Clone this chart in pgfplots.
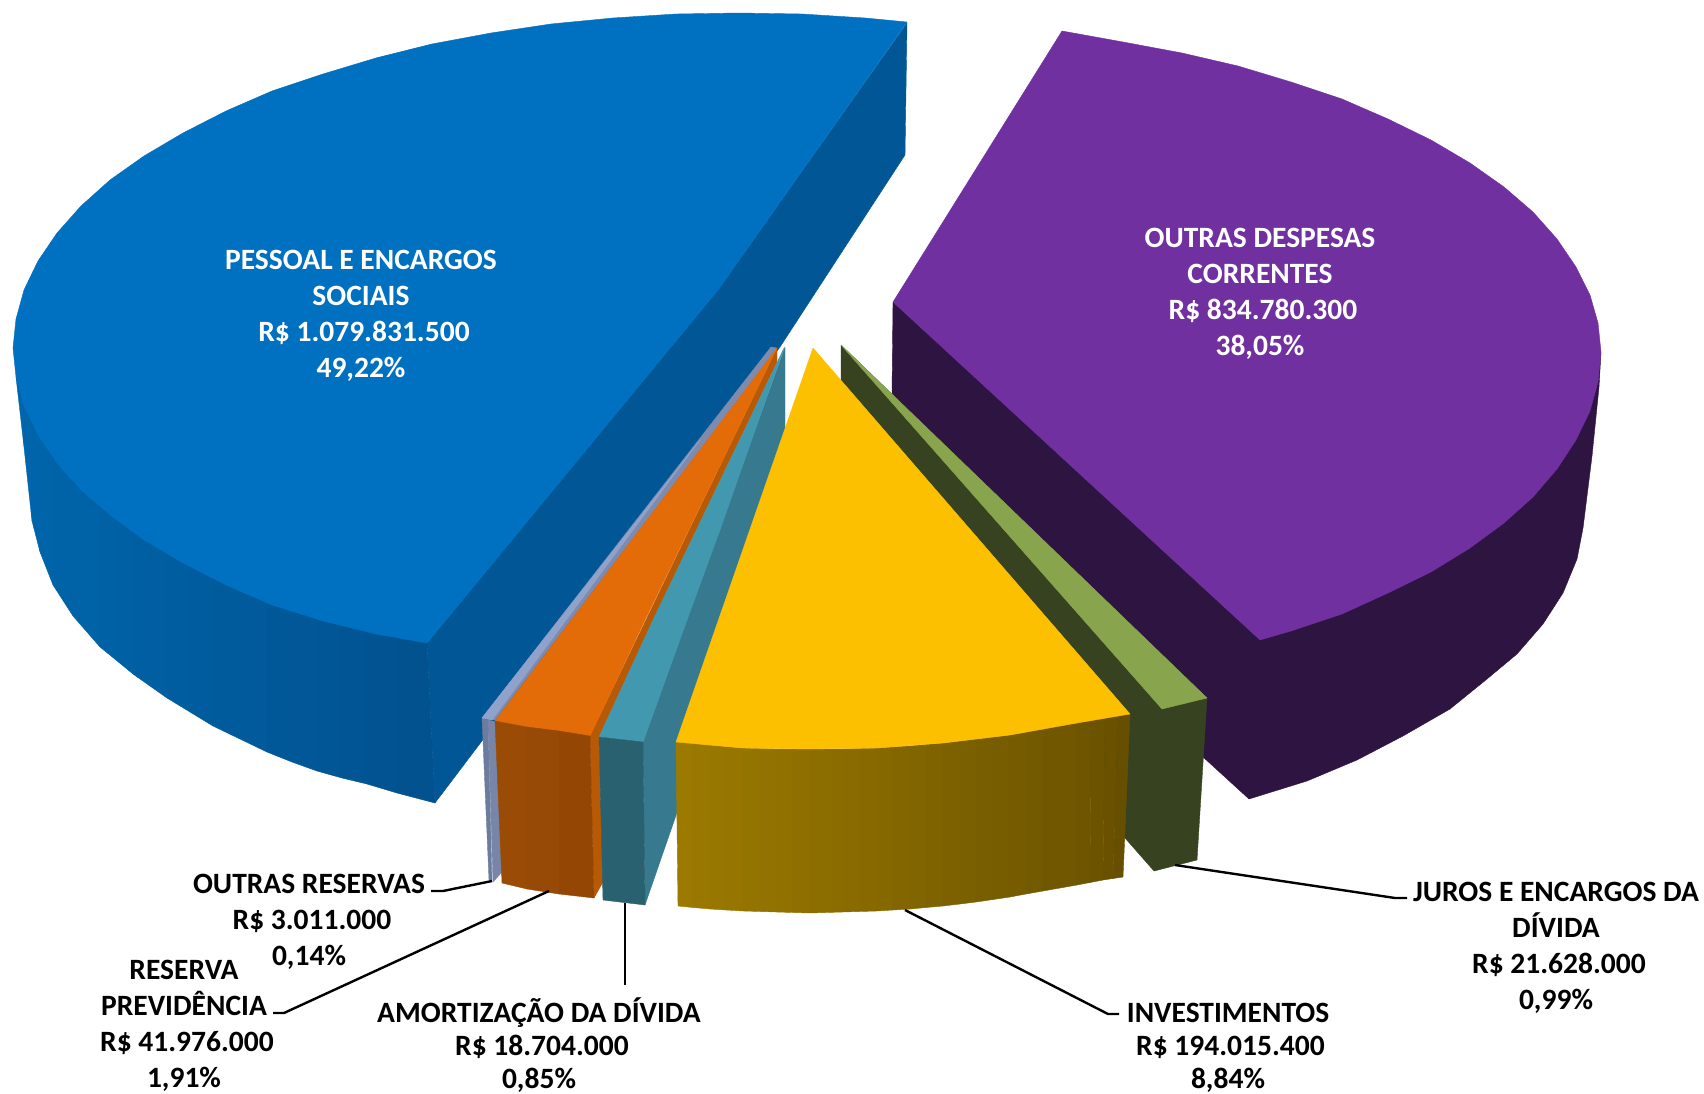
\documentclass[border=0pt]{standalone}
\usepackage{fontspec}
\setmainfont{Carlito}
\usepackage{pgfplots}
\pgfplotsset{compat=1.18}
\definecolor{blueTop}{HTML}{0070C0}
\definecolor{blueCut}{HTML}{015796}
\definecolor{blueA}{HTML}{0065AB}
\definecolor{blueB}{HTML}{01518E}
\definecolor{purTop}{HTML}{7030A0}
\definecolor{purWall}{HTML}{2D1441}
\definecolor{greyLt}{HTML}{8FA2CB}
\definecolor{greyDk}{HTML}{7C8BAE}
\definecolor{greyWa}{HTML}{6C7C9C}
\definecolor{greyWb}{HTML}{7786A8}
\definecolor{oraTop}{HTML}{E36C09}
\definecolor{oraCut}{HTML}{B85A05}
\definecolor{oraA}{HTML}{9A4C06}
\definecolor{oraB}{HTML}{944705}
\definecolor{teaTop}{HTML}{4198AF}
\definecolor{teaCut}{HTML}{377A8F}
\definecolor{teaWall}{HTML}{2A6171}
\definecolor{yelTop}{HTML}{FCC000}
\definecolor{yelA}{HTML}{9C7A00}
\definecolor{yelB}{HTML}{664F00}
\definecolor{greTop}{HTML}{88A44C}
\definecolor{greWall}{HTML}{374320}
\pgfplotsset{pol/.style={fill=#1,draw=#1,line width=0.4pt,line join=round}}
\begin{document}
\begin{tikzpicture}
\useasboundingbox (0,0) rectangle (1704pt,1094pt);
\begin{axis}[at={(0,0)},anchor=south west,scale only axis,width=1704pt,height=1094pt,
  xmin=0,xmax=1704,ymin=0,ymax=1094,y dir=reverse,hide axis,clip=false]
% blue cut wall
\addplot[pol=blueCut] coordinates {(907,23)(905,155)(780,347)(435,803)(427,643)(718,290)} -- cycle;
% blue wall
\addplot[pol=blueA] coordinates {(16,377)(24,403)(24,447)} -- cycle;
\addplot[pol={blueA!98!blueB}] coordinates {(24,403)(32,420)(32,521)(24,447)} -- cycle;
\addplot[pol={blueA!96!blueB}] coordinates {(32,420)(40,435)(40,552)(32,521)} -- cycle;
\addplot[pol={blueA!94!blueB}] coordinates {(40,435)(53,454)(53,585)(40,552)} -- cycle;
\addplot[pol={blueA!91!blueB}] coordinates {(53,454)(73,478)(73,616)(53,585)} -- cycle;
\addplot[pol={blueA!85!blueB}] coordinates {(73,478)(100,503)(100,647)(73,616)} -- cycle;
\addplot[pol={blueA!79!blueB}] coordinates {(100,503)(116,516)(116,660)(100,647)} -- cycle;
\addplot[pol={blueA!75!blueB}] coordinates {(116,516)(133,529)(133,674)(116,660)} -- cycle;
\addplot[pol={blueA!71!blueB}] coordinates {(133,529)(150,540)(150,686)(133,674)} -- cycle;
\addplot[pol={blueA!67!blueB}] coordinates {(150,540)(167,551)(167,698)(150,686)} -- cycle;
\addplot[pol={blueA!62!blueB}] coordinates {(167,551)(190,563)(190,712)(167,698)} -- cycle;
\addplot[pol={blueA!56!blueB}] coordinates {(190,563)(213,575)(213,726)(190,712)} -- cycle;
\addplot[pol={blueA!50!blueB}] coordinates {(213,575)(240,588)(240,739)(213,726)} -- cycle;
\addplot[pol={blueA!44!blueB}] coordinates {(240,588)(267,600)(267,752)(240,739)} -- cycle;
\addplot[pol={blueA!37!blueB}] coordinates {(267,600)(292,608)(292,762)(267,752)} -- cycle;
\addplot[pol={blueA!31!blueB}] coordinates {(292,608)(317,616)(317,771)(292,762)} -- cycle;
\addplot[pol={blueA!25!blueB}] coordinates {(317,616)(342,623)(342,778)(317,771)} -- cycle;
\addplot[pol={blueA!19!blueB}] coordinates {(342,623)(367,629)(367,784)(342,778)} -- cycle;
\addplot[pol={blueA!12!blueB}] coordinates {(367,629)(397,635)(397,793)(367,784)} -- cycle;
\addplot[pol={blueA!5!blueB}] coordinates {(397,635)(427,643)(435,803)(397,793)} -- cycle;
% blue top
\addplot[pol=blueTop] coordinates {(907,22)(865,18)(802,14)(739,13)(676,14)(613,18)(551,24)(491,33)(432,44)(376,58)(323,74)(272,91)(226,111)(183,133)(144,156)(110,180)(81,206)(57,233)(38,261)(24,290)(16,319)(13,348)(16,377)(24,406)(38,435)(57,463)(81,490)(110,515)(144,540)(183,563)(226,585)(272,605)(323,621)(376,634)(427,643)(718,290)} -- cycle;
% purple wall
\addplot[pol=purWall] coordinates {(893,302)(892,393)(1203,757)(1249,799)(1307,781)(1357,760)(1403,736)(1450,709)(1487,679)(1517,654)(1543,624)(1563,593)(1577,559)(1583,528)(1592,456)(1599,387)(1601,352)} -- cycle;
% purple top
\addplot[pol=purTop] coordinates {(1062,31)(1123,42)(1182,53)(1238,66)(1291,82)(1342,99)(1388,119)(1431,140)(1470,163)(1504,187)(1533,212)(1557,239)(1576,267)(1590,295)(1598,323)(1601,352)(1598,382)(1590,411)(1576,440)(1557,469)(1533,497)(1504,523)(1470,548)(1431,572)(1388,593)(1342,614)(1291,631)(1260,640)(893,302)} -- cycle;
% grey slice
\addplot[pol=greyWa] coordinates {(482,718)(488,720)(492,882)(489,880)} -- cycle;
\addplot[pol=greyWb] coordinates {(488,720)(496,722)(502,872)(493,882)} -- cycle;
\addplot[pol=greyDk] coordinates {(771,347)(777,348)(495,720)(482,718)} -- cycle;
\addplot[pol=greyLt] coordinates {(482,718)(492,720)(700,440)} -- cycle;
% orange slice
\addplot[pol=oraCut] coordinates {(777,348)(777,362)(653,620)(599,737)(603,882)(594,898)(590,736)} -- cycle;
\addplot[pol=oraTop] coordinates {(777,348)(645,620)(590,736)(543,730)(495,721)} -- cycle;
\addplot[pol=oraA] coordinates {(495,721)(527,727)(527,889)(502,883)} -- cycle;
\addplot[pol={oraA!50!oraB}] coordinates {(527,727)(559,731)(559,894)(527,889)} -- cycle;
\addplot[pol=oraB] coordinates {(559,731)(590,736)(594,898)(559,894)} -- cycle;
% teal slice
\addplot[pol=teaCut] coordinates {(785,347)(785,500)(645,905)(643,742)} -- cycle;
\addplot[pol=teaTop] coordinates {(784,348)(720,530)(687,620)(643,742)(599,737)(653,620)} -- cycle;
\addplot[pol=teaWall] coordinates {(599,737)(643,742)(645,905)(603,900)} -- cycle;
% green slice
\addplot[pol=greWall] coordinates {(841,345)(1207,698)(1197,860)(1154,871)(1125,838)(841,500)} -- cycle;
\addplot[pol=greTop] coordinates {(841,345)(1207,698)(1162,709)} -- cycle;
% yellow wall
\addplot[pol={yelA!100!yelB}] coordinates {(676,742)(693,743.5)(693,907.5)(678,906)} -- cycle;
\addplot[pol={yelA!96!yelB}] coordinates {(693,743.5)(710,745)(710,909)(693,907.5)} -- cycle;
\addplot[pol={yelA!93!yelB}] coordinates {(710,745)(726,746.5)(726,910)(710,909)} -- cycle;
\addplot[pol={yelA!89!yelB}] coordinates {(726,746.5)(743,748)(743,911)(726,910)} -- cycle;
\addplot[pol={yelA!86!yelB}] coordinates {(743,748)(760,748.5)(760,911.5)(743,911)} -- cycle;
\addplot[pol={yelA!82!yelB}] coordinates {(760,748.5)(776,749)(776,912)(760,911.5)} -- cycle;
\addplot[pol={yelA!79!yelB}] coordinates {(776,749)(793,749)(793,912.5)(776,912)} -- cycle;
\addplot[pol={yelA!75!yelB}] coordinates {(793,749)(810,749)(810,913)(793,912.5)} -- cycle;
\addplot[pol={yelA!71!yelB}] coordinates {(810,749)(826,749)(826,912.5)(810,913)} -- cycle;
\addplot[pol={yelA!68!yelB}] coordinates {(826,749)(843,749)(843,912)(826,912.5)} -- cycle;
\addplot[pol={yelA!64!yelB}] coordinates {(843,749)(860,748.5)(860,911.5)(843,912)} -- cycle;
\addplot[pol={yelA!61!yelB}] coordinates {(860,748.5)(877,748)(877,911)(860,911.5)} -- cycle;
\addplot[pol={yelA!57!yelB}] coordinates {(877,748)(893,747)(893,910)(877,911)} -- cycle;
\addplot[pol={yelA!54!yelB}] coordinates {(893,747)(910,746)(910,909)(893,910)} -- cycle;
\addplot[pol={yelA!50!yelB}] coordinates {(910,746)(926,744.5)(926,907.5)(910,909)} -- cycle;
\addplot[pol={yelA!46!yelB}] coordinates {(926,744.5)(943,743)(943,906)(926,907.5)} -- cycle;
\addplot[pol={yelA!43!yelB}] coordinates {(943,743)(960,741)(960,904)(943,906)} -- cycle;
\addplot[pol={yelA!39!yelB}] coordinates {(960,741)(976,739)(976,902)(960,904)} -- cycle;
\addplot[pol={yelA!36!yelB}] coordinates {(976,739)(993,737)(993,899.5)(976,902)} -- cycle;
\addplot[pol={yelA!32!yelB}] coordinates {(993,737)(1010,735)(1010,897)(993,899.5)} -- cycle;
\addplot[pol={yelA!29!yelB}] coordinates {(1010,735)(1026,732)(1026,894)(1010,897)} -- cycle;
\addplot[pol={yelA!25!yelB}] coordinates {(1026,732)(1043,729)(1043,891)(1026,894)} -- cycle;
\addplot[pol={yelA!21!yelB}] coordinates {(1043,729)(1060,726)(1060,888)(1043,891)} -- cycle;
\addplot[pol={yelA!18!yelB}] coordinates {(1060,726)(1077,723)(1077,885)(1060,888)} -- cycle;
\addplot[pol={yelA!14!yelB}] coordinates {(1077,723)(1091,720)(1090,882.5)(1077,885)} -- cycle;
\addplot[pol={yelA!10!yelB}] coordinates {(1091,720)(1105,717)(1103,880)(1090,882.5)} -- cycle;
\addplot[pol={yelA!5!yelB}] coordinates {(1105,717)(1118,715)(1113,878.5)(1103,880)} -- cycle;
\addplot[pol=yelB] coordinates {(1118,715)(1130,714)(1123,877)(1113,878.5)} -- cycle;
% yellow top
\addplot[pol=yelTop] coordinates {(813,348)(1130,714)(1077,723)(1010,735)(943,743)(877,748)(810,749)(743,748)(676,742)} -- cycle;
% leader lines
\addplot[black,line width=2.4pt] coordinates {(492,881)(443,891)(431,891)};
\addplot[black,line width=2.4pt] coordinates {(549,891)(284,1013)(273,1013)};
\addplot[black,line width=2.4pt] coordinates {(625,903)(625,985)};
\addplot[black,line width=2.4pt] coordinates {(905,910)(1108,1014)(1119,1014)};
\addplot[black,line width=2.4pt] coordinates {(1175,865)(1395,898)(1407,898)};
% labels
\tikzset{lab/.style={align=center,inner sep=0pt,font=\fontsize{29.5}{36}\selectfont\bfseries},
  labb/.style={align=center,inner sep=0pt,font=\fontsize{29.5}{33}\selectfont\bfseries}}
\node[lab,text=white] at (axis cs:361,316) {PESSOAL E ENCARGOS\\SOCIAIS\\\hspace*{6pt}R\$ 1.079.831.500\\49,22\%};
\node[lab,text=white] at (axis cs:1260,294) {OUTRAS DESPESAS\\CORRENTES\\\hspace*{6pt}R\$ 834.780.300\\38,05\%};
\node[lab] at (axis cs:309,922) {OUTRAS RESERVAS\\\hspace*{6pt}R\$ 3.011.000\\0,14\%};
\node[lab] at (axis cs:184,1026) {RESERVA\\PREVIDÊNCIA\\\hspace*{6pt}R\$ 41.976.000\\1,91\%};
\node[labb] at (axis cs:539,1045) {AMORTIZAÇÃO DA DÍVIDA\\\hspace*{6pt}R\$ 18.704.000\\0,85\%};
\node[labb] at (axis cs:1228,1048) {INVESTIMENTOS\\\hspace*{5pt}R\$ 194.015.400\\8,84\%};
\node[lab] at (axis cs:1556,948) {JUROS E ENCARGOS DA\\DÍVIDA\\\hspace*{6pt}R\$ 21.628.000\\0,99\%};
\end{axis}
\end{tikzpicture}
\end{document}
